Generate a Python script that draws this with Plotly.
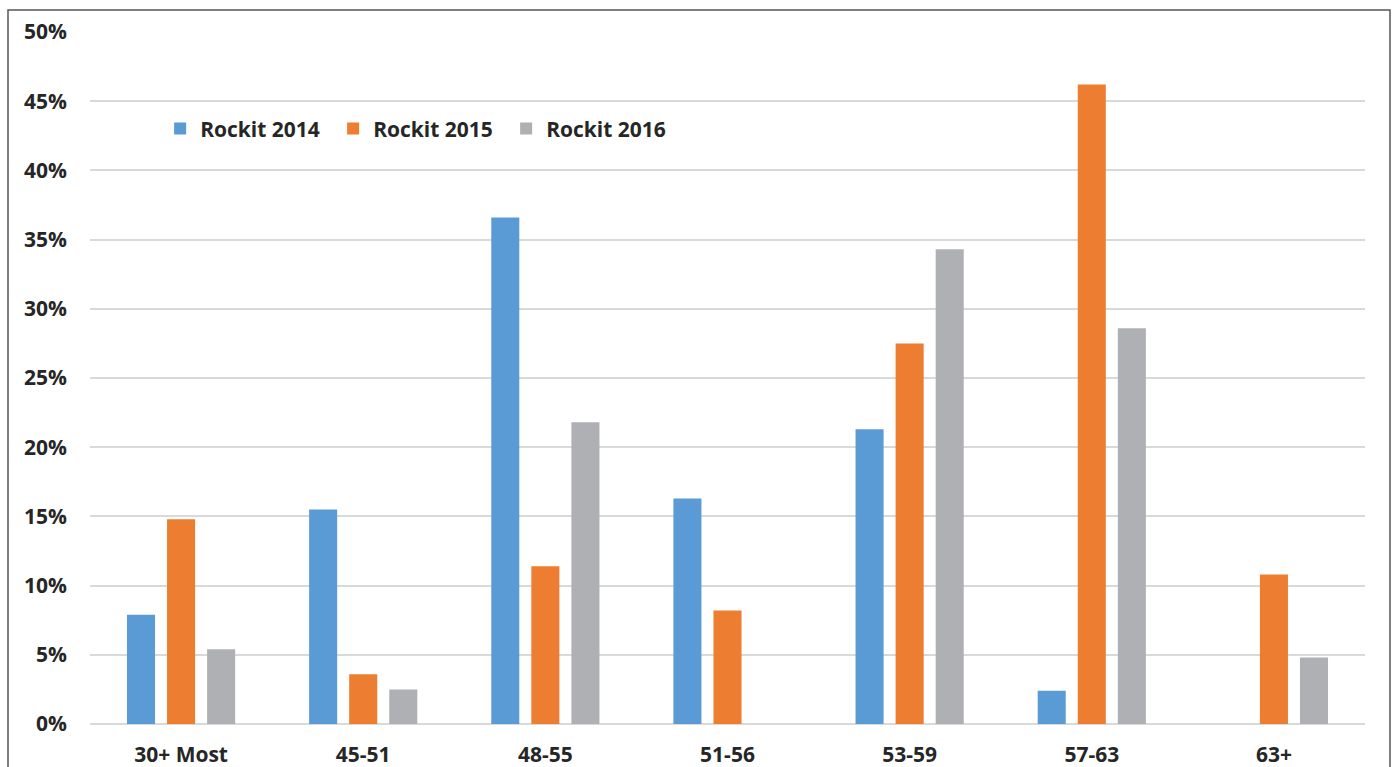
import plotly.graph_objects as go

categories = ["30+ Most", "45-51", "48-55", "51-56", "53-59", "57-63", "63+"]
rockit_2014 = [7.9, 15.5, 36.6, 16.3, 21.3, 2.4, 0]
rockit_2015 = [14.8, 3.6, 11.4, 8.2, 27.5, 46.2, 10.8]
rockit_2016 = [5.4, 2.5, 21.8, 0, 34.3, 28.6, 4.8]
series_names = ["Rockit 2014", "Rockit 2015", "Rockit 2016"]
colors = ["#5B9BD5", "#ED7D31", "#AFB0B4"]
y_ticks = [0, 5, 10, 15, 20, 25, 30, 35, 40, 45, 50]

fig = go.Figure()
for name, vals, col in zip(series_names, [rockit_2014, rockit_2015, rockit_2016], colors):
    fig.add_trace(go.Bar(x=categories, y=[v / 100 for v in vals], name=name,
                         marker=dict(color=col, line=dict(width=0))))

font_family = "Open Sans"
tick_font = dict(family=font_family, size=21, color="#262626", weight="bold")
fig.update_layout(
    width=1395, height=767,
    margin=dict(l=90, r=30, t=32, b=43),
    paper_bgcolor="white", plot_bgcolor="white",
    barmode="group", bargap=0.34, bargroupgap=0.3,
    font=dict(family=font_family, size=21, color="#262626"),
    showlegend=True,
    legend=dict(orientation="h", x=0.055, y=0.86, xanchor="left", yanchor="middle",
                font=tick_font,
                entrywidth=128, itemwidth=30, bgcolor="rgba(0,0,0,0)"),
    xaxis=dict(showgrid=False, showline=False, ticks="", ticklabelstandoff=16,
               automargin=False, tickfont=tick_font),
    yaxis=dict(range=[0, 0.5], tickvals=[t / 100 for t in y_ticks],
               ticktext=[f"{t}%" for t in y_ticks],
               showgrid=True, gridcolor="#D9D9D9", gridwidth=1.5,
               zeroline=True, zerolinecolor="#D9D9D9", zerolinewidth=1.5,
               showline=False, ticks="", ticklabelstandoff=22,
               automargin=False, tickfont=tick_font),
)

fig.add_shape(type="rect", xref="paper", yref="paper",
              x0=(8 - 90) / 1275, x1=(1390 - 90) / 1275,
              y0=-0.2, y1=(724 - 10) / 692,
              line=dict(color="#555555", width=1.5), layer="below")

fig.write_html("out.html")
